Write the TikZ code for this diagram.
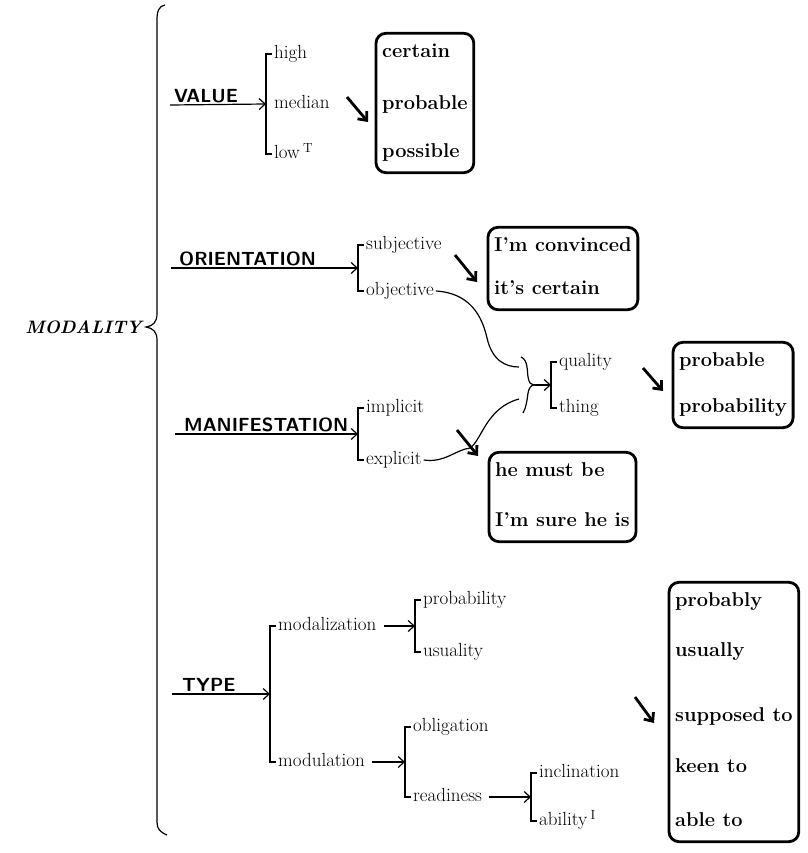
\documentclass[tikz,border=0pt]{standalone}
\usepackage{tikz}
\usetikzlibrary{arrows.meta,fit}

\tikzset{
  lbl/.style={anchor=west, inner sep=2pt, text height=13pt, text depth=4pt, font=\fontsize{19}{21}\selectfont},
  head/.style={anchor=south west, inner sep=2pt, font=\sffamily\bfseries\fontsize{19}{21}\selectfont},
  real/.style={anchor=west, inner sep=1pt, text height=14pt, text depth=5pt, font=\bfseries\fontsize{20}{22}\selectfont},
  realbox/.style={draw, line width=2.8pt, rounded corners=10pt, inner xsep=5pt, inner ysep=9pt},
  brk/.style={line width=1.2pt},
  feed/.style={line width=1.2pt, -{Straight Barb[length=6pt,width=11pt]}},
  pointer/.style={line width=2.8pt, -{Straight Barb[length=7pt,width=12pt]}},
}

\begin{document}
\begin{tikzpicture}[x=1pt,y=-1pt]
    \useasboundingbox (0,0) rectangle (807,853);

    % big brace
    \draw[brk] (165,5) .. controls (159,6) and (157,11) .. (157,20) -- (157,314)
        .. controls (157,322) and (153,326) .. (146,327)
        .. controls (153,328) and (157,332) .. (157,340) -- (157,822)
        .. controls (157,829) and (160,832) .. (167,835);
    \coordinate (tip) at (144,327);
    \node[anchor=east, inner sep=2pt, font=\bfseries\itshape\fontsize{18}{20}\selectfont] (modality) at (tip) {MODALITY};

    % value
    \node[head] (value) at (172,105) {VALUE};
    \node[lbl] (high) at (272,54) {high};
    \node[lbl] (median) at (272,104) {median};
    \node[lbl] (low) at (272,154) {low\,\textsuperscript{T}};
    \coordinate (valbr) at (266,104);
    \draw[brk] (high.west) -- ++(-6,0) |- (low.west);
    \draw[feed] ([xshift=-2pt]value.south west) -- (valbr);

    \node[real] (certain) at (381,53) {certain};
    \node[real] (probable) at (381,105) {probable};
    \node[real] (possible) at (381,153) {possible};
    \node[realbox, fit=(certain)(probable)(possible)] (box1) {};
    \coordinate (v1) at (347,97);
    \coordinate (v2) at (368,122);
    \draw[pointer] (v1) -- (v2);

    % orientation
    \node[head] (orient) at (177,268) {ORIENTATION};
    \node[lbl] (subj) at (364,245) {subjective};
    \node[lbl] (obj) at (364,291) {objective};
    \coordinate (orbr) at (358,268);
    \draw[brk] (subj.west) -- ++(-6,0) |- (obj.west);
    \draw[feed] ([xshift=-6pt]orient.south west) -- (orbr);

    \node[real] (convinced) at (493,247) {I'm convinced};
    \node[real] (itscertain) at (493,290) {it's certain};
    \node[realbox, fit=(convinced)(itscertain)] (box2) {};
    \coordinate (o1) at (455,255);
    \coordinate (o2) at (477,282);
    \draw[pointer] (o1) -- (o2);

    % manifestation
    \node[head] (manif) at (182,434) {MANIFESTATION};
    \node[lbl] (impl) at (364,408) {implicit};
    \node[lbl] (expl) at (364,460) {explicit};
    \coordinate (mabr) at (358,434);
    \draw[brk] (impl.west) -- ++(-6,0) |- (expl.west);
    \draw[feed] ([xshift=-7pt]manif.south west) -- (mabr);

    \node[real] (mustbe) at (494,472) {he must be};
    \node[real] (sureis) at (494,522) {I'm sure he is};
    \node[realbox, fit=(mustbe)(sureis)] (box4) {};
    \coordinate (m1) at (457,430);
    \coordinate (m2) at (478,456);
    \draw[pointer] (m1) -- (m2);

    % objective + explicit merged
    \coordinate (mtop) at (521,357);
    \coordinate (mtip) at (534,385);
    \coordinate (mbot) at (523,413);
    \draw[brk] (mtop) .. controls (528,360) and (527,370) .. (528,377)
        .. controls (529,383) and (531,385) .. (mtip)
        .. controls (531,385) and (529,388) .. (528,393)
        .. controls (527,401) and (526,408) .. (mbot);
    \draw[brk] (obj.east) .. controls (470,293) and (482,316) .. (487,338)
        .. controls (492,360) and (505,367) .. (519,367);
    \draw[brk] (expl.east) .. controls (445,463) and (455,450) .. (470,448)
        .. controls (482,440) and (486,408) .. (519,399);

    \node[lbl] (quality) at (557,362) {quality};
    \node[lbl] (thing) at (557,408) {thing};
    \coordinate (qtbr) at (551,385);
    \draw[brk] (quality.west) -- ++(-6,0) |- (thing.west);
    \draw[feed] (mtip) -- (qtbr);

    \node[real] (probable2) at (678,362) {probable};
    \node[real] (probability2) at (678,408) {probability};
    \node[realbox, fit=(probable2)(probability2)] (box3) {};
    \coordinate (q1) at (643,368);
    \coordinate (q2) at (663,391);
    \draw[pointer] (q1) -- (q2);

    % type
    \node[head] (type) at (180,694) {TYPE};
    \node[lbl] (modz) at (276,626) {modalization};
    \node[lbl] (modu) at (276,762) {modulation};
    \coordinate (tybr) at (270,694);
    \draw[brk] (modz.west) -- ++(-6,0) |- (modu.west);
    \draw[feed] ([xshift=-8pt]type.south west) -- (tybr);

    \node[lbl] (prob) at (421,600) {probability};
    \node[lbl] (usu) at (421,652) {usuality};
    \coordinate (mzbr) at (415,626);
    \draw[brk] (prob.west) -- ++(-6,0) |- (usu.west);
    \draw[feed, shorten <=5pt] (modz.east) -- (mzbr);

    \node[lbl] (oblig) at (411,727) {obligation};
    \node[lbl] (ready) at (411,797) {readiness};
    \coordinate (mubr) at (405,762);
    \draw[brk] (oblig.west) -- ++(-6,0) |- (ready.west);
    \draw[feed, shorten <=5pt] (modu.east) -- (mubr);

    \node[lbl] (incl) at (537,773) {inclination};
    \node[lbl] (abil) at (537,821) {ability\,\textsuperscript{I}};
    \coordinate (rdbr) at (531,797);
    \draw[brk] (incl.west) -- ++(-6,0) |- (abil.west);
    \draw[feed, shorten <=5pt] (ready.east) -- (rdbr);

    \node[real] (probably) at (674,602) {probably};
    \node[real] (usually) at (674,652) {usually};
    \node[real] (supposed) at (674,717) {supposed to};
    \node[real] (keen) at (674,768) {keen to};
    \node[real] (able) at (674,822) {able to};
    \node[realbox, fit=(probably)(usually)(supposed)(keen)(able)] (box5) {};
    \coordinate (t1) at (635,697);
    \coordinate (t2) at (654,723);
    \draw[pointer] (t1) -- (t2);

\end{tikzpicture}
\end{document}
